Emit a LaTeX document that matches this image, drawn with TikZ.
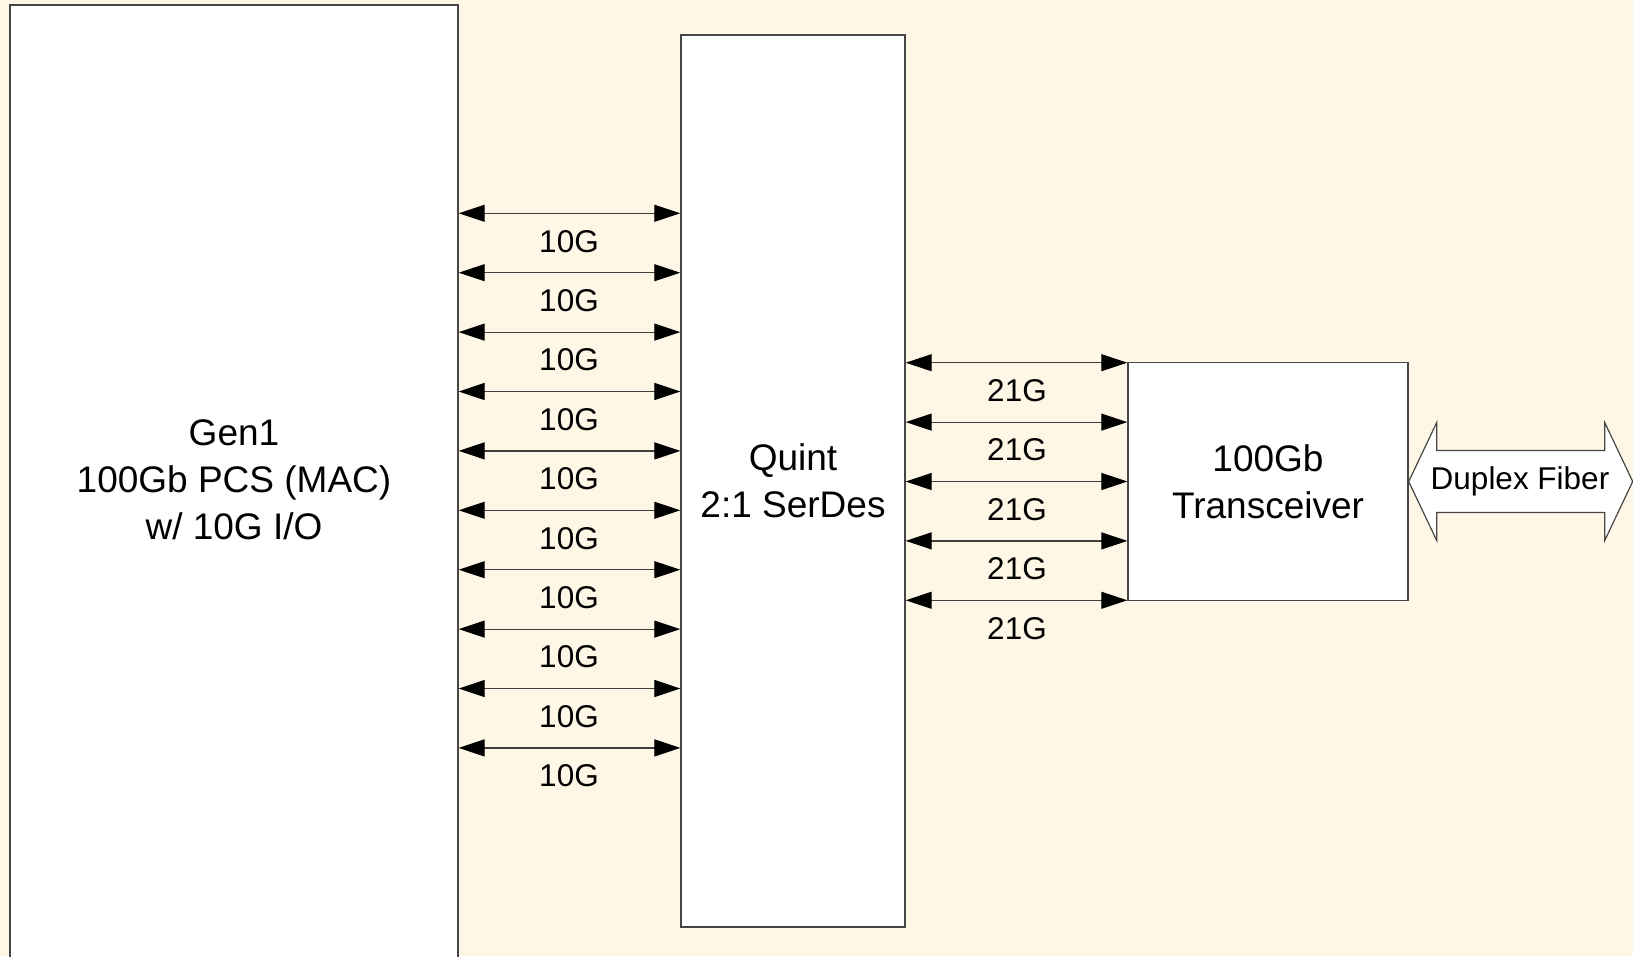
\documentclass[tikz,border=0pt]{standalone}
\usepackage{fontspec}
\setmainfont{Liberation Sans}
\usetikzlibrary{arrows.meta}
\definecolor{bgcream}{RGB}{255,247,229}
\definecolor{edgegray}{RGB}{70,70,70}
\begin{document}
\begin{tikzpicture}[x=1pt, y=-1pt, >={Triangle[length=26pt,width=17pt,color=black]},
  box/.style={draw=edgegray, line width=1.4pt, fill=white, align=center, inner sep=0pt, font=\fontsize{37}{47}\selectfont},
  link/.style={<->, line width=1.2pt, draw=black!75},
  rate/.style={font=\fontsize{31.5}{36}\selectfont}]
\clip (0,0) rectangle (1633,956);
\fill[bgcream] (0,0) rectangle (1633,956);
\node[box, minimum width=448pt, minimum height=1000pt] (gen1) at (234,505) {};
\node[align=center, font=\fontsize{37}{47}\selectfont] (gen1text) at (234,480) {Gen1\\100Gb PCS (MAC)\\w/ 10G I/O};
\node[box, minimum width=224pt, minimum height=892pt] (serdes) at (793,481) {Quint\\2:1 SerDes};
\node[box, minimum width=280pt, minimum height=238pt] (xcvr) at (1268,481.5) {100Gb\\Transceiver};
% 10G lanes
\foreach \i in {0,...,9}{
  \pgfmathsetmacro{\yy}{213.3+59.4*\i}
  \draw[link] (gen1.east |- 0,\yy) -- (serdes.west |- 0,\yy);
  \node[rate] (lane\i) at (569,\yy+28) {10G};
}
% 21G lanes
\foreach \i in {0,...,4}{
  \pgfmathsetmacro{\yy}{362.7+59.4*\i}
  \draw[link] (serdes.east |- 0,\yy) -- (xcvr.west |- 0,\yy);
  \node[rate] (fast\i) at (1017,\yy+28) {21G};
}
% fiber
\draw[draw=edgegray, line width=1.2pt, fill=white] (xcvr.east) -- ++(28,-59) -- ++(0,28) -- ++(168,0) -- ++(0,-28) -- ++(28,59)
  -- ++(-28,59) -- ++(0,-28) -- ++(-168,0) -- ++(0,28) -- cycle;
\node[rate] (fiber) at (1520,481.5) {Duplex Fiber};
\end{tikzpicture}
\end{document}
